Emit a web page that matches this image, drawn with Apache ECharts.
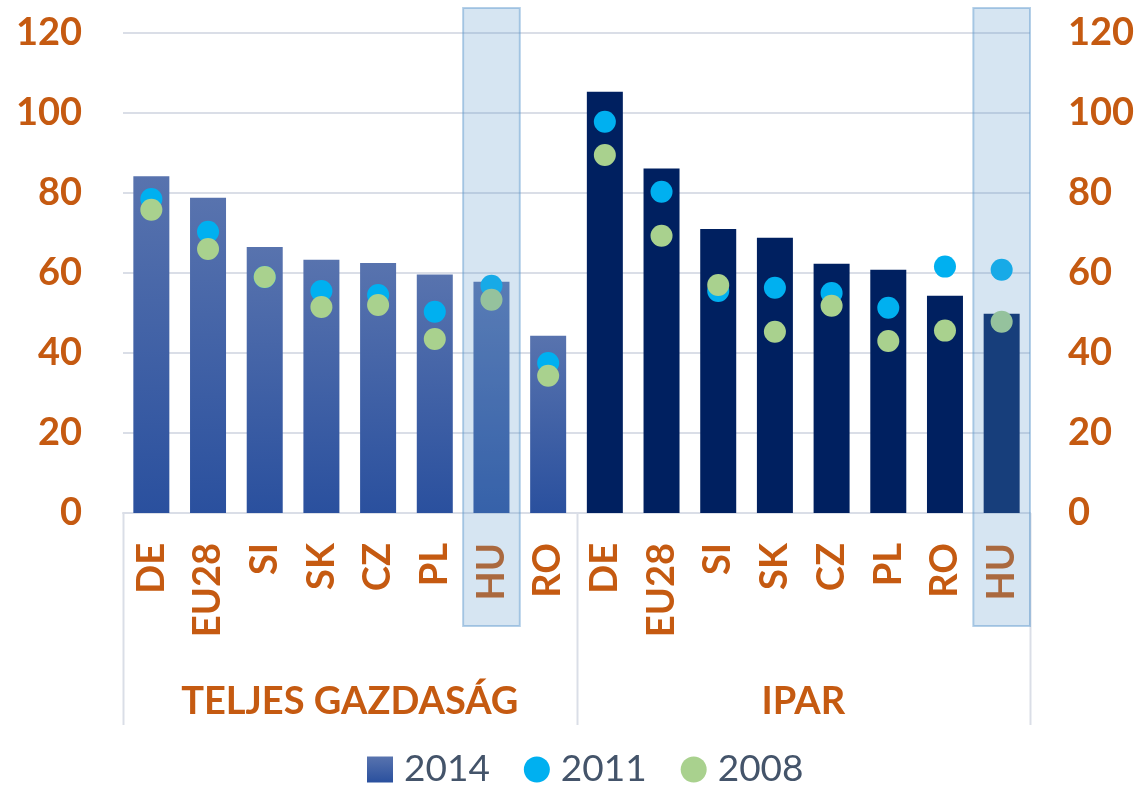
<!DOCTYPE html>
<html>
<head>
<meta charset="utf-8">
<script src="https://cdn.jsdelivr.net/npm/echarts@6/dist/echarts.min.js"></script>
<style>
  html, body { margin: 0; padding: 0; background: #fff; }
  #chart { width: 1142px; height: 786px; }
</style>
</head>
<body>
<div id="chart"></div>
<script>
// country codes, grouped: first 8 = total economy, last 8 = industry
var countries = ['DE', 'EU28', 'SI', 'SK', 'CZ', 'PL', 'HU', 'RO',
                 'DE', 'EU28', 'SI', 'SK', 'CZ', 'PL', 'RO', 'HU'];
var groups = ['TELJES GAZDASÁG', 'IPAR'];
var groupEdges = [0, 8, 16]; // category boundaries between groups
var yTicks = [0, 20, 40, 60, 80, 100, 120];
var highlight = [6, 15]; // HU columns

var v2014 = [84.2, 78.8, 66.5, 63.3, 62.5, 59.6, 57.8, 44.3,
             105.3, 86.1, 71.0, 68.8, 62.3, 60.8, 54.3, 49.8];
var v2011 = [78.5, 70.3, 59.0, 55.5, 54.5, 50.3, 56.8, 37.5,
             97.8, 80.3, 55.5, 56.3, 55.0, 51.3, 61.6, 60.8];
var v2008 = [75.8, 66.0, 59.0, 51.5, 52.0, 43.5, 53.3, 34.3,
             89.5, 69.3, 57.0, 45.3, 51.8, 43.0, 45.6, 47.8];

var ORANGE = '#c55a11';
var GRID = '#dadee7';
var FONT = 'Lato';

var gradBlue = new echarts.graphic.LinearGradient(0, 0, 0, 1, [
  { offset: 0, color: '#5873ae' },
  { offset: 1, color: '#2a509e' }
]);

var barData = v2014.map(function (v, i) {
  if (i < 8) return v;
  return { value: v, itemStyle: { color: '#002060' } };
});

var chart = echarts.init(document.getElementById('chart'));

var yLabel = { color: ORANGE, fontFamily: FONT, fontWeight: 'bold', fontSize: 38 };

var option = {
  animation: false,
  grid: { left: 123, right: 112, top: 33, bottom: 273, containLabel: false },
  legend: {
    left: 362, top: 746,
    itemWidth: 26, itemHeight: 26, itemGap: 34,
    textStyle: { color: '#44546a', fontFamily: FONT, fontSize: 37, padding: [0, 0, 0, 6] },
    data: [
      { name: '2014', icon: 'rect' },
      { name: '2011', icon: 'circle' },
      { name: '2008', icon: 'circle' }
    ]
  },
  xAxis: [
    {
      type: 'category', data: countries, position: 'bottom',
      axisLine: { lineStyle: { color: GRID, width: 2 } },
      axisTick: { show: false },
      axisLabel: {
        interval: 0, rotate: 90, margin: 30,
        color: ORANGE, fontFamily: FONT, fontWeight: 'bold', fontSize: 38
      }
    },
    {
      type: 'category', data: groups, position: 'bottom', offset: 212,
      axisLine: { show: false },
      axisTick: { show: false },
      axisLabel: {
        interval: 0, inside: true, margin: 4,
        color: ORANGE, fontFamily: FONT, fontWeight: 'bold', fontSize: 38
      }
    }
  ],
  yAxis: [
    {
      type: 'value', min: 0, max: 120, interval: 20, position: 'left',
      axisLine: { show: false }, axisTick: { show: false },
      splitLine: { lineStyle: { color: GRID, width: 2 } },
      axisLabel: Object.assign({ margin: 41 }, yLabel)
    },
    {
      type: 'value', min: 0, max: 120, interval: 20, position: 'right',
      axisLine: { show: false }, axisTick: { show: false },
      splitLine: { show: false },
      axisLabel: Object.assign({ margin: 38 }, yLabel)
    }
  ],
  series: [
    {
      name: '2014', type: 'bar', data: barData, barWidth: 36,
      itemStyle: { color: gradBlue }
    },
    {
      name: '2011', type: 'scatter', data: v2011, symbolSize: 22,
      itemStyle: { color: '#00b0f0', opacity: 1 }
    },
    {
      name: '2008', type: 'scatter', data: v2008, symbolSize: 22,
      itemStyle: { color: '#a9d18e', opacity: 1 }
    }
  ]
};

chart.setOption(option);

// band geometry from the category axis
var x0 = chart.convertToPixel({ xAxisIndex: 0 }, 0);
var x1 = chart.convertToPixel({ xAxisIndex: 0 }, 1);
var band = x1 - x0;
var yTop = chart.convertToPixel({ yAxisIndex: 0 }, yTicks[yTicks.length - 1]) - 25;
var yBase = chart.convertToPixel({ yAxisIndex: 0 }, yTicks[0]);

var elements = [];
// group separator lines below the axis
groupEdges.forEach(function (e) {
  var x = Math.round(x0 - band / 2 + e * band) + 0.5;
  elements.push({
    type: 'line', z: 5,
    shape: { x1: x, y1: yBase, x2: x, y2: yBase + 212 },
    style: { stroke: GRID, lineWidth: 2 }
  });
});
// semi-transparent highlight boxes over the HU columns
highlight.forEach(function (idx) {
  var cx = chart.convertToPixel({ xAxisIndex: 0 }, idx);
  elements.push({
    type: 'rect', z: 100,
    shape: { x: cx - band / 2, y: yTop, width: band, height: yBase + 113 - yTop },
    style: { fill: 'rgba(92,151,203,0.25)', stroke: 'rgba(92,151,203,0.45)', lineWidth: 2 }
  });
});
chart.setOption({ graphic: elements });
</script>
</body>
</html>
